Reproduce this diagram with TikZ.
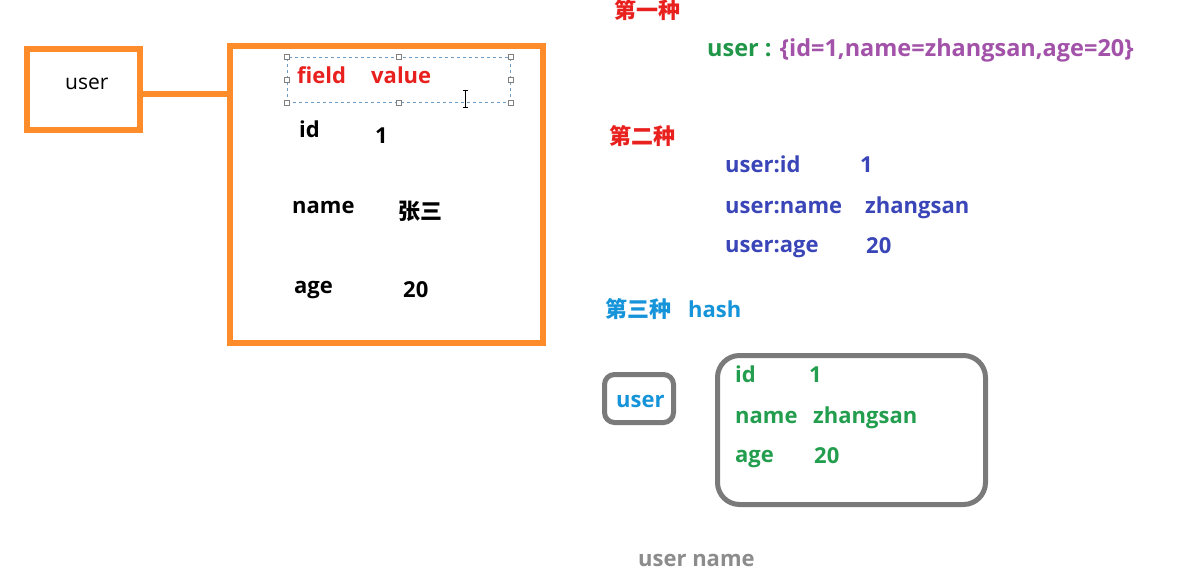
\documentclass[tikz,border=0pt]{standalone}
\usepackage{fontspec}
\setmainfont{Open Sans}
\newfontfamily\cjk{Noto Sans CJK SC}
\definecolor{orng}{RGB}{255,140,42}
\definecolor{redt}{RGB}{232,32,30}
\definecolor{greent}{RGB}{32,150,72}
\definecolor{purp}{RGB}{162,82,168}
\definecolor{bluet}{RGB}{58,70,184}
\definecolor{cyant}{RGB}{22,148,218}
\definecolor{grayb}{RGB}{122,122,122}
\definecolor{grayt}{RGB}{140,140,140}
\definecolor{greenb}{RGB}{34,158,78}
\definecolor{selc}{RGB}{110,155,195}
\tikzset{
  txt/.style={anchor=base west,inner sep=0pt,font=\fontsize{22}{26}\selectfont\bfseries},
  ctxt/.style={anchor=base west,inner sep=0pt,font=\fontsize{22}{26}\selectfont\cjk\bfseries},
  obox/.style={draw=orng,line width=6pt,inner sep=0pt},
  gbox/.style={draw=grayb,line width=5pt,inner sep=0pt},
  handle/.style={draw=gray,fill=white,line width=0.8pt,minimum size=5pt,inner sep=0pt}
}
\begin{document}
\begin{tikzpicture}[x=1pt,y=-1pt]
\useasboundingbox[fill=white] (0,0) rectangle (1195,573);
% left part
\node[obox,minimum width=113pt,minimum height=81pt] (ubox) at (83.5,89.5) {};
\node[anchor=base west,inner sep=0pt,font=\fontsize{21}{25}\selectfont] (utxt) at (65,89) {user};
\node[obox,minimum width=313pt,minimum height=297pt] (fbox) at (386.5,194.5) {};
\draw[orng,line width=6pt] (ubox.east |- 0,94) -- (fbox.west |- 0,94);
% selection box
\node[draw=selc,dashed,line width=0.9pt,minimum width=223pt,minimum height=45pt,inner sep=0pt] (sel) at (398.5,79.5) {};
\foreach \p in {north west,north,north east,west,east,south west,south,south east}
  \node[handle] at (sel.\p) {};
\node[txt,text=redt] (field) at (297,83) {field};
\node[txt,text=redt] (value) at (371,83) {value};
% I-beam cursor
\coordinate (ib1) at (465,90);
\coordinate (ib2) at (465,107);
\draw[black,line width=0.9pt] (ib1) -- (ib2);
\draw[black,line width=0.9pt] ([xshift=-2.5pt]ib1) -- ([xshift=2.5pt]ib1);
\draw[black,line width=0.9pt] ([xshift=-2.5pt]ib2) -- ([xshift=2.5pt]ib2);
% fields
\node[txt] (kid) at (299,137) {id};
\node[txt] (vid) at (375,143) {1};
\node[txt] (kname) at (292,213) {name};
\node[ctxt] (vname) at (398,219) {张三};
\node[txt] (kage) at (294,293) {age};
\node[txt] (vage) at (403,297) {20};
% right part
\node[ctxt,text=redt] (h1) at (614,18) {第一种};
\node[txt,font=\fontsize{23.5}{27}\selectfont\bfseries] (s1) at (707,56) {\textcolor{greent}{user :} \textcolor{purp}{\{id=1,name=zhangsan,age=20\}}};
\node[ctxt,text=redt] (h2) at (609,144) {第二种};
\node[txt,text=bluet] (k1) at (725,172) {user:id};
\node[txt,text=bluet] (v1) at (860,172) {1};
\node[txt,text=bluet] (k2) at (725,213) {user:name};
\node[txt,text=bluet] (v2) at (865,213) {zhangsan};
\node[txt,text=bluet] (k3) at (725,252) {user:age};
\node[txt,text=bluet] (v3) at (866,253) {20};
\node[ctxt,text=cyant] (h3) at (605,317) {第三种};
\node[txt,text=cyant] (hash) at (688,317) {hash};
% hash boxes
\node[gbox,rounded corners=10pt,minimum width=69pt,minimum height=48pt] (hu) at (639,398.5) {};
\node[txt,text=cyant] (hut) at (616,407) {user};
\node[gbox,rounded corners=22pt,minimum width=268pt,minimum height=149pt] (hb) at (851.5,430) {};
\node[txt,text=greenb] (g1) at (735,382) {id};
\node[txt,text=greenb] (g1v) at (809,382) {1};
\node[txt,text=greenb] (g2) at (735,423) {name};
\node[txt,text=greenb] (g2v) at (813,423) {zhangsan};
\node[txt,text=greenb] (g3) at (735,462) {age};
\node[txt,text=greenb] (g3v) at (814,463) {20};
\node[txt,text=grayt] (un) at (638,566) {user name};
\end{tikzpicture}
\end{document}
